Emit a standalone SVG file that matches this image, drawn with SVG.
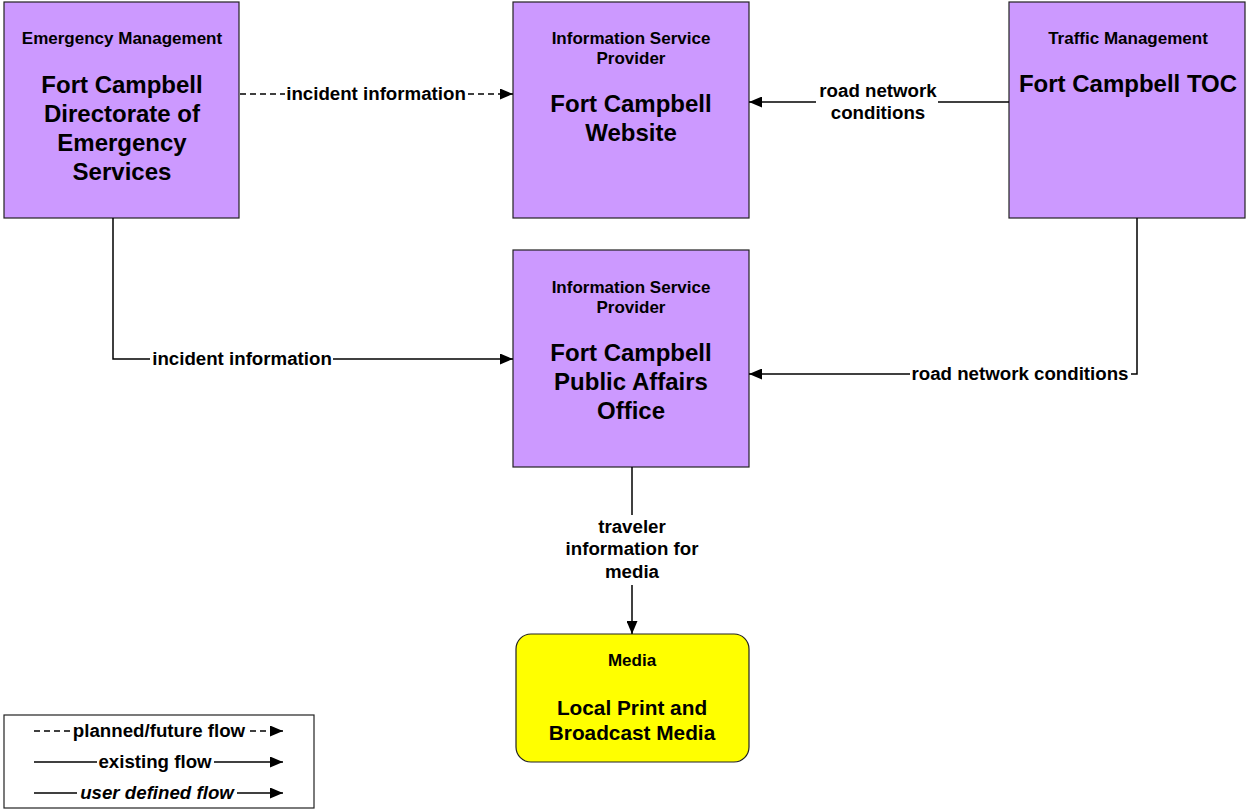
<svg xmlns="http://www.w3.org/2000/svg" width="1247" height="810" viewBox="0 0 1247 810">
<style>
text{font-family:"Liberation Sans",Arial,sans-serif;font-weight:bold;fill:#000;text-anchor:middle}
.hd{font-size:17px}
.tt{font-size:24px}
.mt{font-size:20.8px}
.lb{font-size:18.7px}
.box{fill:#CC99FF;stroke:#222;stroke-width:1.2}
.media{fill:#FFFF00;stroke:#222;stroke-width:1.2}
.ln{fill:none;stroke:#000;stroke-width:1.5}
.dash{fill:none;stroke:#000;stroke-width:1.7;stroke-dasharray:6,4}
</style>
<defs>
<marker id="ah" viewBox="0 0 13 11" refX="13" refY="5.5" markerWidth="13" markerHeight="11" markerUnits="userSpaceOnUse" orient="auto">
<path d="M0,0 L13,5.5 L0,11 Z" fill="#000"/>
</marker>
</defs>
<rect width="1247" height="810" fill="#fff"/>

<g id="node-emergency">
<rect class="box" x="4" y="2" width="235" height="216"/>
<text class="hd" x="122" y="44">Emergency Management</text>
<text class="tt" x="122" y="93">Fort Campbell</text>
<text class="tt" x="122" y="122">Directorate of</text>
<text class="tt" x="122" y="151">Emergency</text>
<text class="tt" x="122" y="180">Services</text>
</g>

<g id="node-website">
<rect class="box" x="513" y="2" width="236" height="216"/>
<text class="hd" x="631" y="44">Information Service</text>
<text class="hd" x="631" y="64">Provider</text>
<text class="tt" x="631" y="112">Fort Campbell</text>
<text class="tt" x="631" y="141">Website</text>
</g>

<g id="node-toc">
<rect class="box" x="1009" y="2" width="236" height="216"/>
<text class="hd" x="1128" y="44">Traffic Management</text>
<text class="tt" x="1128" y="92">Fort Campbell TOC</text>
</g>

<g id="node-pao">
<rect class="box" x="513" y="250" width="236" height="217"/>
<text class="hd" x="631" y="293">Information Service</text>
<text class="hd" x="631" y="313">Provider</text>
<text class="tt" x="631" y="361">Fort Campbell</text>
<text class="tt" x="631" y="390">Public Affairs</text>
<text class="tt" x="631" y="419">Office</text>
</g>

<g id="node-media">
<rect class="media" x="516" y="634" width="233" height="128" rx="15" ry="15"/>
<text class="hd" x="632" y="666">Media</text>
<text class="mt" x="632" y="715">Local Print and</text>
<text class="mt" x="632" y="740">Broadcast Media</text>
</g>

<g id="connectors">
<line class="dash" x1="240" y1="94" x2="285" y2="94"/>
<text class="lb" x="376" y="100">incident information</text>
<line class="dash" x1="468" y1="94" x2="513" y2="94" marker-end="url(#ah)"/>

<line class="ln" x1="1009" y1="102" x2="938" y2="102"/>
<line class="ln" x1="816" y1="102" x2="749" y2="102" marker-end="url(#ah)"/>
<text class="lb" x="878" y="97">road network</text>
<text class="lb" x="878" y="119">conditions</text>

<polyline class="ln" points="113,218 113,359 150,359"/>
<text class="lb" x="242" y="365">incident information</text>
<line class="ln" x1="333" y1="359" x2="513" y2="359" marker-end="url(#ah)"/>

<polyline class="ln" points="1137,218 1137,374 1131,374"/>
<text class="lb" x="1020" y="380">road network conditions</text>
<line class="ln" x1="910" y1="374" x2="749" y2="374" marker-end="url(#ah)"/>

<line class="ln" x1="632" y1="467" x2="632" y2="515"/>
<text class="lb" x="632" y="533">traveler</text>
<text class="lb" x="632" y="555">information for</text>
<text class="lb" x="632" y="578">media</text>
<line class="ln" x1="632" y1="585" x2="632" y2="634" marker-end="url(#ah)"/>
</g>

<g id="legend">
<rect x="4" y="715" width="310" height="93" fill="#fff" stroke="#222" stroke-width="1.2"/>
<line class="dash" x1="34" y1="731" x2="71" y2="731"/>
<text class="lb" x="159" y="737">planned/future flow</text>
<line class="dash" x1="250" y1="731" x2="283" y2="731" marker-end="url(#ah)"/>
<line class="ln" x1="34" y1="762" x2="97" y2="762"/>
<text class="lb" x="155" y="768">existing flow</text>
<line class="ln" x1="214" y1="762" x2="283" y2="762" marker-end="url(#ah)"/>
<line class="ln" x1="34" y1="793" x2="77" y2="793"/>
<text class="lb" x="157" y="799" font-style="italic">user defined flow</text>
<line class="ln" x1="237" y1="793" x2="283" y2="793" marker-end="url(#ah)"/>
</g>
</svg>
